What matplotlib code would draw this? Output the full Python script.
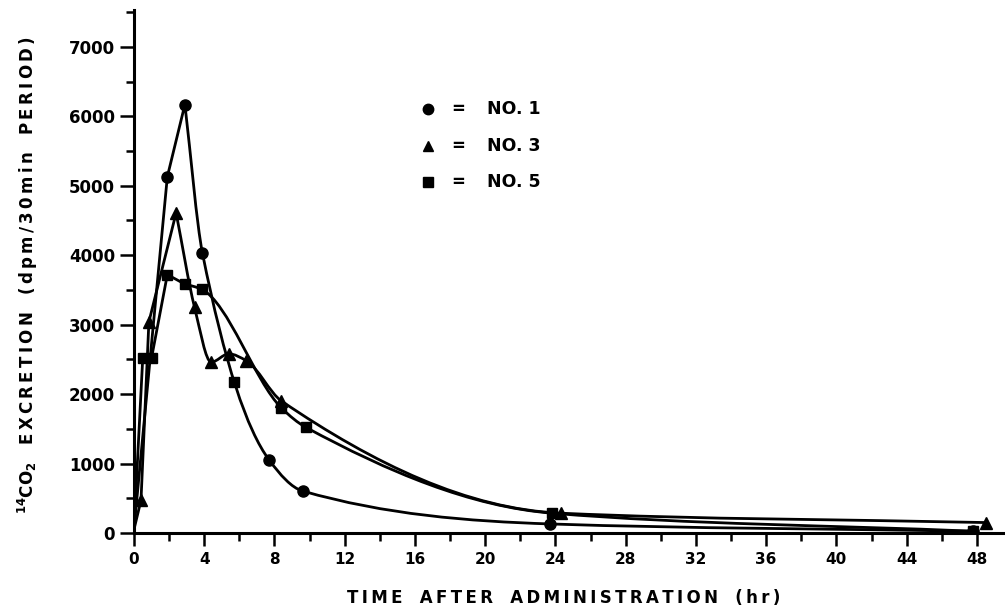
import matplotlib
matplotlib.use("Agg")
import matplotlib.pyplot as plt
from matplotlib.path import Path
from matplotlib.patches import PathPatch
import numpy as np

plt.rcParams["font.family"] = ["DejaVu Sans"]
plt.rcParams["font.weight"] = "bold"
plt.rcParams["mathtext.default"] = "bf"

# hours after administration, dpm / 30 min
no1_hr = [0, 1.9, 2.9, 3.9, 7.7, 9.6, 23.7, 47.8]
no1 = [50, 5130, 6170, 4030, 1050, 605, 130, 25]

no3_hr = [0, 0.4, 0.85, 2.4, 3.45, 4.4, 5.4, 6.4, 8.4, 24.3, 48.5]
no3 = [50, 470, 3040, 4610, 3250, 2460, 2580, 2480, 1900, 285, 150]

no5_hr = [0, 0.5, 1.0, 1.9, 2.9, 3.85, 5.7, 8.4, 9.8, 23.8, 47.8]
no5 = [50, 2520, 2520, 3720, 3590, 3510, 2180, 1800, 1520, 285, 25]

x_ticks = list(range(0, 49, 4))
y_ticks = list(range(0, 7001, 1000))


def hermite_path(xs, ys, corners=()):
    # smooth hand-drawn style curve through the points (monotone cubic, Bezier form)
    xs = np.asarray(xs, float)
    ys = np.asarray(ys, float)
    h = np.diff(xs)
    d = np.diff(ys) / h
    n = len(xs)
    left = np.zeros(n)
    right = np.zeros(n)
    for k in range(n):
        if k == 0:
            m = d[0]
        elif k == n - 1:
            m = d[-1]
        elif d[k - 1] * d[k] <= 0:
            m = 0.0
        else:
            w1 = 2 * h[k] + h[k - 1]
            w2 = h[k] + 2 * h[k - 1]
            m = (w1 + w2) / (w1 / d[k - 1] + w2 / d[k])
        left[k] = right[k] = m
        if k in corners:
            if k > 0:
                left[k] = d[k - 1]
            if k < n - 1:
                right[k] = d[k]
    verts = [(xs[0], ys[0])]
    codes = [Path.MOVETO]
    for k in range(n - 1):
        dx = h[k] / 3
        verts += [(xs[k] + dx, ys[k] + right[k] * dx),
                  (xs[k + 1] - dx, ys[k + 1] - left[k + 1] * dx),
                  (xs[k + 1], ys[k + 1])]
        codes += [Path.CURVE4] * 3
    return Path(verts, codes)


THIN = "\u2009"


def spaced(word):
    return THIN.join(word)


fig = plt.figure(figsize=(10.05, 6.08), dpi=100)
ax = fig.add_axes([0.1333, 0.1234, 0.8667, 0.860])

series = [
    (no1_hr, no1, "o", 8, (0, 1, 2), []),
    (no3_hr, no3, "^", 8, (0, 1, 2, 3), []),
    (no5_hr, no5, "s", 7.5, (0, 1, 2, 3), [6]),
]
for hr, val, mk, ms, corners, off_curve in series:
    keep = [i for i in range(len(hr)) if i not in off_curve]
    p = hermite_path([hr[i] for i in keep], [val[i] for i in keep], corners)
    ax.add_patch(PathPatch(p, fill=False, lw=2.0, color="black", capstyle="round"))
    ax.plot(hr[1:], val[1:], ls="none", marker=mk, ms=ms, color="black")

ax.set_xlim(0, 49.6)
ax.set_ylim(0, 7530)
ax.set_xticks(x_ticks)
ax.set_yticks(y_ticks)
ax.set_xticks(np.arange(2, 48, 4), minor=True)
ax.set_yticks(np.arange(500, 7600, 1000), minor=True)
ax.spines[["top", "right"]].set_visible(False)
for s in ["left", "bottom"]:
    ax.spines[s].set_linewidth(2.2)
ax.tick_params(axis="y", which="major", length=10, width=1.8, labelsize=12, pad=3.5)
ax.tick_params(axis="y", which="minor", length=6, width=1.8)
ax.tick_params(axis="x", which="major", length=9, width=1.8, labelsize=11, pad=5)
ax.tick_params(axis="x", which="minor", length=5.5, width=1.8)
for lab in ax.get_xticklabels() + ax.get_yticklabels():
    lab.set_fontweight("bold")

# key
leg_y = [0.811, 0.740, 0.671]
for (hr, val, mk, ms, c, o), yy, name in zip(series, leg_y, ["NO. 1", "NO. 3", "NO. 5"]):
    ax.plot([0.338], [yy], marker=mk, ms=ms - 0.5, color="black", transform=ax.transAxes)
    ax.text(0.372, yy, "=", transform=ax.transAxes, ha="center", va="center",
            fontsize=12, fontweight="bold")
    ax.text(0.405, yy, name, transform=ax.transAxes, ha="left", va="center",
            fontsize=12.5, fontweight="bold")

gap = "   "
ylab = (r"$^{14}$CO$_2$" + gap + spaced("EXCRETION") + gap + spaced("(dpm/30min")
        + gap + spaced("PERIOD)"))
fig.text(0.028, 0.548, ylab, rotation=90, ha="center", va="center",
         fontsize=12, fontweight="bold")
xlab = gap.join([spaced("TIME"), spaced("AFTER"), spaced("ADMINISTRATION"), spaced("(hr)")])
fig.text(0.561, 0.017, xlab, ha="center", va="center", fontsize=12, fontweight="bold")

fig.savefig("out.png", dpi=100)
